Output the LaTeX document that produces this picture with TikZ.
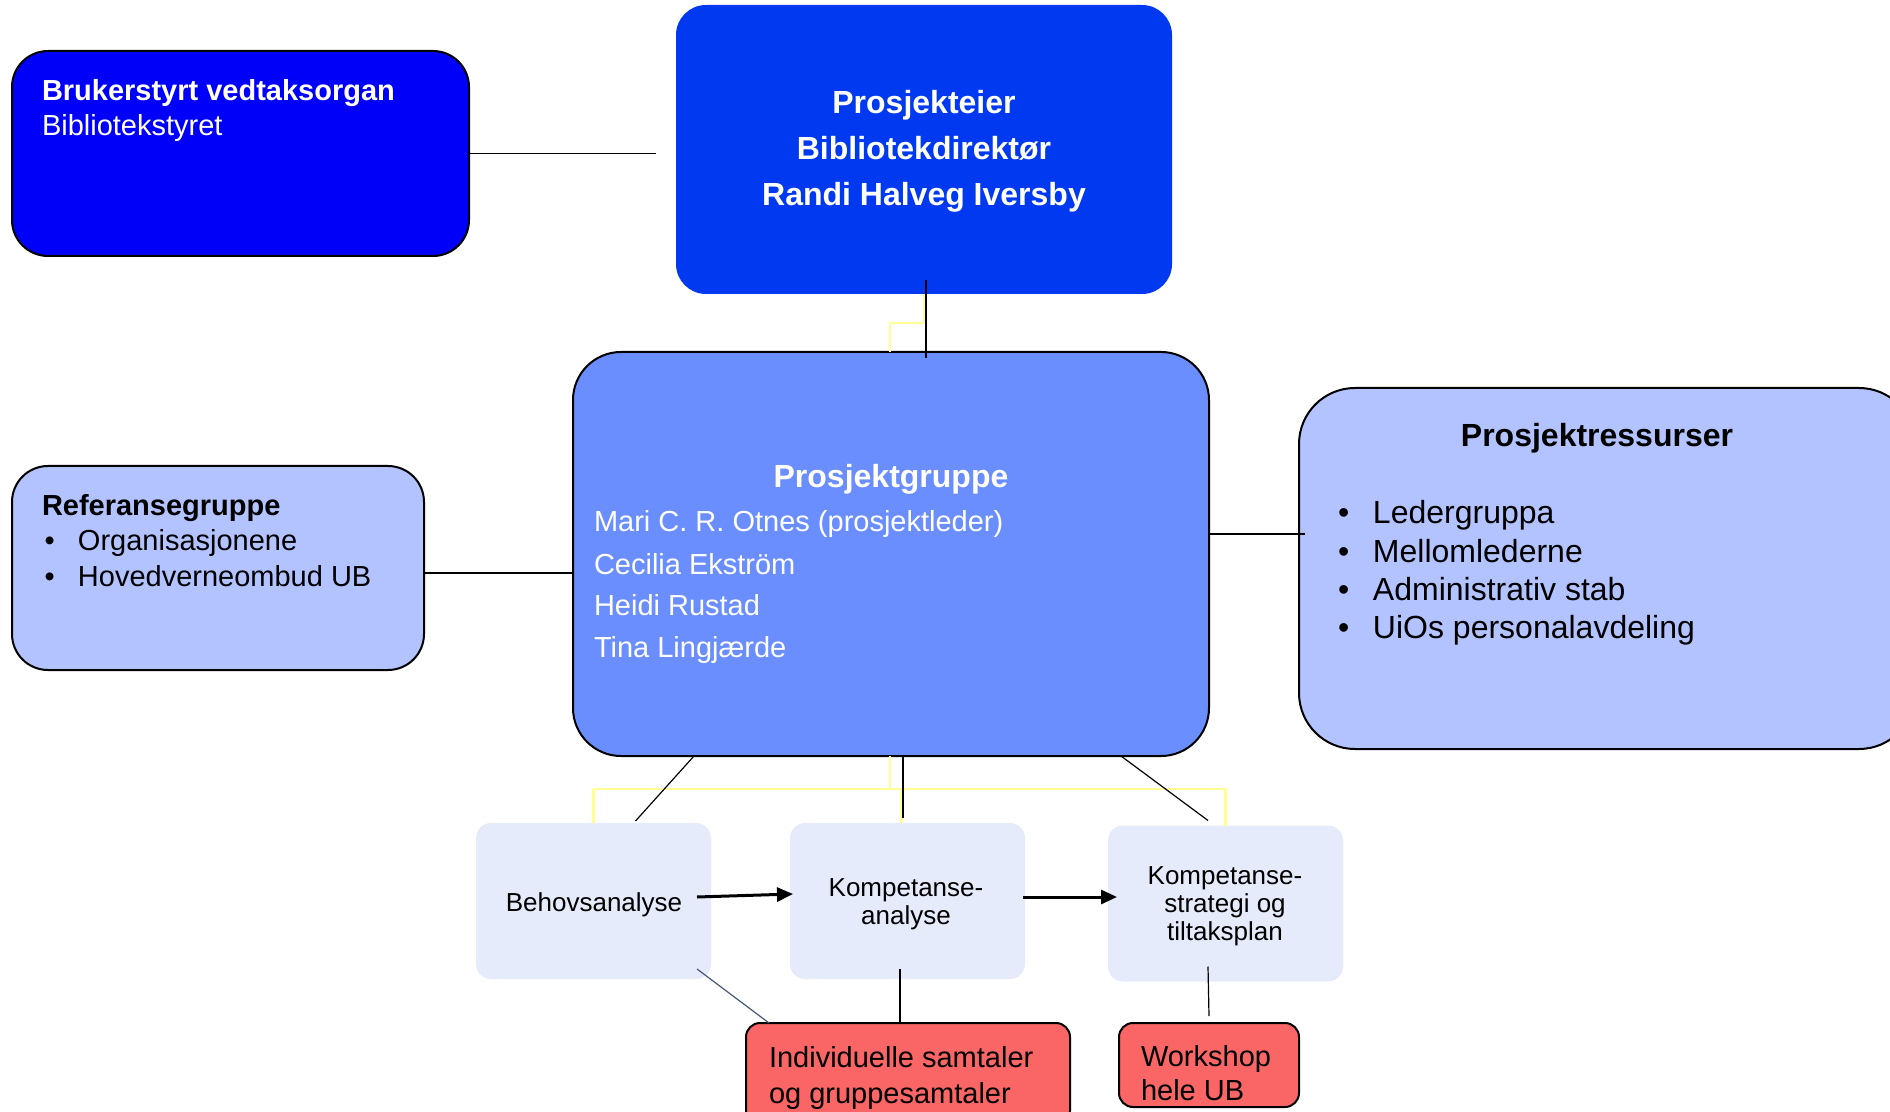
\documentclass[tikz,border=0pt]{standalone}
\usepackage{fontspec}
\setmainfont{Liberation Sans}
\usetikzlibrary{arrows.meta,calc}
\definecolor{brukblue}{RGB}{0,0,250}
\definecolor{eierblue}{RGB}{0,57,240}
\definecolor{gruppeblue}{RGB}{107,142,255}
\definecolor{lightblue}{RGB}{179,195,255}
\definecolor{paleblue}{RGB}{230,235,252}
\definecolor{redbox}{RGB}{250,102,102}
\definecolor{paleyellow}{RGB}{255,255,150}
\definecolor{slateline}{RGB}{70,85,120}
\begin{document}
\begin{tikzpicture}[x=0.5pt,y=-0.5pt,
  box/.style={rectangle, inner sep=0pt, outer sep=0pt},
  outlined/.style={box, draw=black, line width=1pt},
  txt/.style={inner sep=0pt, outer sep=0pt},
  conn/.style={draw=black, line width=0.6pt},
  yconn/.style={draw=paleyellow, line width=1.2pt},
  flow/.style={draw=black, line width=1.5pt, -{Triangle[length=8pt,width=7pt]}},
  stepbox/.style={box, fill=paleblue, rounded corners=7.5pt, minimum width=117.5pt, minimum height=78pt},
  steptxt/.style={txt, align=center, font=\fontsize{13}{14}\selectfont},
  redbox/.style={outlined, fill=redbox, rounded corners=7pt}
]
\useasboundingbox (0,0) rectangle (1890,1112);

% main boxes
\node[outlined, fill=brukblue, rounded corners=18pt, minimum width=228.5pt, minimum height=102.5pt] (bruk) at (240.5,153.5) {};
\node[box, fill=eierblue, rounded corners=15pt, minimum width=248pt, minimum height=144.5pt] (eier) at (924,149.5) {};
\node[outlined, fill=gruppeblue, rounded corners=24pt, minimum width=318pt, minimum height=202pt] (gruppe) at (891,554) {};
\node[outlined, fill=lightblue, rounded corners=18pt, minimum width=206pt, minimum height=102pt] (ref) at (218,568) {};
\node[outlined, fill=lightblue, rounded corners=28pt, minimum width=308pt, minimum height=180.5pt] (res) at (1607,568.5) {};

% step boxes
\node[stepbox] (behov) at (593.5,901) {};
\node[stepbox] (kana) at (907.5,901) {};
\node[stepbox] (strat) at (1225.5,903.5) {};
\node[steptxt] (behovtxt) at (594,905) {Behovsanalyse};
\node[steptxt] (kanatxt) at (906,904) {Kompetanse-\\analyse};
\node[steptxt] (strattxt) at (1225,906) {Kompetanse-\\strategi og\\tiltaksplan};

% red boxes
\node[redbox, minimum width=162pt, minimum height=51pt] (ind) at (908,1074) {};
\node[redbox, minimum width=90pt, minimum height=42pt] (ws) at (1209,1065) {};

% texts
\node[txt, white, anchor=west, align=left, font=\fontsize{14.5}{17.5}\selectfont] (bruktxt) at (42,111) {\textbf{Brukerstyrt vedtaksorgan}\\Bibliotekstyret};
\node[txt, white, align=center, font=\bfseries\fontsize{16}{23}\selectfont] (eiertxt) at (924,151.5) {Prosjekteier\\Bibliotekdirektør\\Randi Halveg Iversby};
\node[txt, white, font=\bfseries\fontsize{16}{19}\selectfont] (gruppetitle) at (891,479.5) {Prosjektgruppe};
\node[txt, white, anchor=west, align=left, font=\fontsize{14.5}{21}\selectfont] (gruppetxt) at (594,587.5) {Mari C. R. Otnes (prosjektleder)\\Cecilia Ekström\\Heidi Rustad\\Tina Lingjærde};
\node[txt, black, anchor=west, align=left, font=\fontsize{14.5}{17.75}\selectfont] (reftxt) at (42,540.5) {\textbf{Referansegruppe}\\\makebox[18pt][l]{\hspace{1.3pt}\textbullet}Organisasjonene\\\makebox[18pt][l]{\hspace{1.3pt}\textbullet}Hovedverneombud UB};
\node[txt, black, font=\bfseries\fontsize{16}{19}\selectfont] (restitle) at (1597,438.5) {Prosjektressurser};
\node[txt, black, anchor=west, align=left, font=\fontsize{16}{19.15}\selectfont] (restxt) at (1338,573) {\makebox[17.5pt][l]{\textbullet}Ledergruppa\\\makebox[17.5pt][l]{\textbullet}Mellomlederne\\\makebox[17.5pt][l]{\textbullet}Administrativ stab\\\makebox[17.5pt][l]{\textbullet}UiOs personalavdeling};
\node[txt, black, anchor=west, align=left, font=\fontsize{14.5}{18}\selectfont] (indtxt) at (769,1077.5) {Individuelle samtaler\\og gruppesamtaler};
\node[txt, black, anchor=west, align=left, font=\fontsize{14.5}{17}\selectfont] (wstxt) at (1141,1073) {Workshop\\hele UB};

% yellow connectors
\draw[yconn] (eier.south) -- ++(0,29) -| ([xshift=-0.5pt]gruppe.north);
\draw[yconn] ([xshift=-0.5pt]gruppe.south) -- ++(0,33) -| (behov.north);
\draw[yconn] ([xshift=-0.5pt]gruppe.south) -- ++(0,33) -| (strat.north);
\draw[yconn] ([xshift=-0.5pt]gruppe.south) -- ++(0,33) -| ([xshift=-3pt]kana.north);

% black connectors
\draw[conn] (bruk.east) -- (bruk.east -| eier.west) [shorten >=10pt];
\draw[conn, line width=0.9pt] ([xshift=1pt]eier.south) -- ([xshift=1pt]eier.south |- gruppe.north) [shorten <=-7pt, shorten >=-3pt];
\draw[conn, line width=0.9pt] ([yshift=-2.5pt]ref.east) -- ([yshift=-2.5pt]ref.east -| gruppe.west);
\draw[conn, line width=0.9pt] ([yshift=10pt]gruppe.east) -- ([yshift=10pt]gruppe.east -| res.west) [shorten >=-3pt];
\draw[conn] ([xshift=-98.5pt]gruppe.south) -- ([xshift=21pt,yshift=1pt]behov.north);
\draw[conn, line width=0.9pt] ([xshift=6pt]gruppe.south) -- ([xshift=-2.25pt,yshift=2.5pt]kana.north);
\draw[conn] ([xshift=115pt]gruppe.south) -- ([xshift=-8.75pt,yshift=2.5pt]strat.north);

% flow arrows
\draw[flow] ([xshift=-7pt,yshift=2pt]behov.east) -- ([xshift=1.5pt,yshift=3.5pt]kana.west);
\draw[flow] ([xshift=-1pt,yshift=2pt]kana.east) -- ([xshift=4.5pt,yshift=3.25pt]strat.west);

% lines to red boxes
\draw[conn, draw=slateline] ([xshift=-7pt,yshift=5pt]behov.south east) -- ([xshift=11.5pt]ind.north west);
\draw[conn] ([xshift=-3.75pt,yshift=5pt]kana.south) -- ([xshift=-4pt]ind.north);
\draw[conn] ([xshift=-8.75pt,yshift=7.5pt]strat.south) -- ([yshift=3.5pt]ws.north);
\end{tikzpicture}
\end{document}
